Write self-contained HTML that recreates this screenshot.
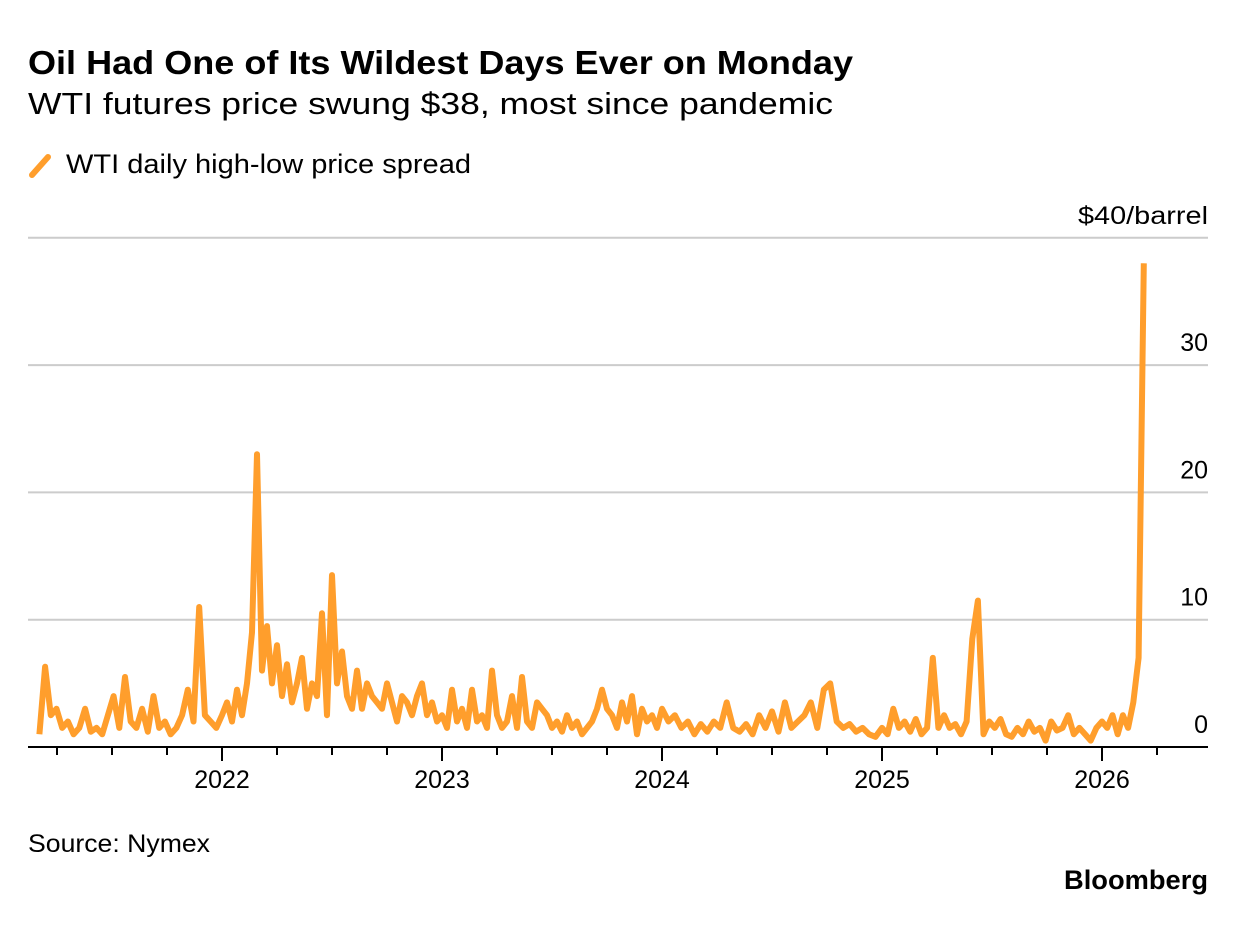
<!DOCTYPE html>
<html><head><meta charset="utf-8"><style>
body{margin:0;background:#fff;width:1237px;height:922px;overflow:hidden;font-family:"Liberation Sans",Arial,sans-serif}
</style></head><body>
<svg id="chart" width="1237" height="922" xmlns="http://www.w3.org/2000/svg" font-family="Liberation Sans, Arial, sans-serif">
<text x="28" y="74" font-size="33" font-weight="bold" fill="#000" textLength="825" lengthAdjust="spacingAndGlyphs">Oil Had One of Its Wildest Days Ever on Monday</text>
<text x="28" y="114" font-size="31" fill="#000" textLength="805" lengthAdjust="spacingAndGlyphs">WTI futures price swung $38, most since pandemic</text>
<line x1="32" y1="175" x2="48" y2="157" stroke="#ff9e2c" stroke-width="6" stroke-linecap="round"/>
<text x="66" y="173" font-size="27" fill="#000" textLength="405" lengthAdjust="spacingAndGlyphs">WTI daily high-low price spread</text>
<text x="1208" y="224" font-size="25" text-anchor="end" fill="#000" textLength="130" lengthAdjust="spacingAndGlyphs">$40/barrel</text>
<g id="grid"></g><g id="xaxis"></g><g id="series"></g>
<text x="28" y="852" font-size="25" fill="#000" textLength="182" lengthAdjust="spacingAndGlyphs">Source: Nymex</text>
<text x="1208" y="889" font-size="27" font-weight="bold" text-anchor="end" fill="#000" textLength="144" lengthAdjust="spacingAndGlyphs">Bloomberg</text>
</svg>
<script>
const yTicks=[10,20,30,40];
const yTickLabels=["10","20","30",""];
const xYears=[2022,2023,2024,2025,2026];
const chunkStarts=[2021.17,2022.0,2023.0,2024.0,2025.0,2026.0];
const chunkEnds=[2022.0,2023.0,2024.0,2025.0,2026.0,2026.19];
const values2021=[1,6.3,2.5,3,1.5,2,1,1.5,3,1.2,1.5,1,2.5,4,1.5,5.5,2,1.5,3,1.2,4,1.5,2,1,1.5,2.5,4.5,2,11,2.5,2,1.5];
const values2022=[2.5,3.5,2,4.5,2.5,5,9,23,6,9.5,5,8,4,6.5,3.5,5,7,3,5,4,10.5,2.5,13.5,5,7.5,4,3,6,3,5,4,3.5,3,5,3.5,2,4,3.5,2.5,4,5,2.5,3.5,2];
const values2023=[2.5,1.5,4.5,2,3,1.5,4.5,2,2.5,1.5,6,2.5,1.5,2,4,1.5,5.5,2,1.5,3.5,3,2.5,1.5,2,1.2,2.5,1.5,2,1,1.5,2,3,4.5,3,2.5,1.5,3.5,2,4,1,3,2,2.5,1.5];
const values2024=[3,2,2.5,1.5,2,1,1.8,1.2,2,1.5,3.5,1.5,1.2,1.8,1,2.5,1.5,2.8,1.2,3.5,1.5,2,2.5,3.5,1.5,4.5,5,2,1.5,1.8,1.2,1.5,1,0.8];
const values2025=[1.5,1,3,1.5,2,1.2,2.2,1,1.5,7,1.5,2.5,1.5,1.8,1,2,8.5,11.5,1,2,1.5,2.2,1,0.8,1.5,1,2,1.2,1.5,0.5,2,1.3,1.5,2.5,1,1.5,1,0.5,1.5];
const values2026=[2,1.5,2.5,1,2.5,1.5,3.5,7,38];
const chunks=[values2021,values2022,values2023,values2024,values2025,values2026];
const NS="http://www.w3.org/2000/svg";
const X0=28,X1=1208,Y0=747,PX_PER_UNIT=12.73;
const xScale=t=>222+(t-2022)*220;
const yScale=v=>Y0-v*PX_PER_UNIT;
function mk(tag,attrs,parent){const e=document.createElementNS(NS,tag);for(const k in attrs)e.setAttribute(k,attrs[k]);parent.appendChild(e);return e;}
const grid=document.getElementById('grid');
yTicks.forEach((v,i)=>{
 const l=mk('line',{x1:X0,x2:X1,y1:yScale(v),y2:yScale(v),stroke:'#cccccc','stroke-width':2},grid);
 
 
 if(yTickLabels[i]){const t=mk('text',{x:1208,y:yScale(v)-14,'font-size':25,'text-anchor':'end',fill:'#000'},grid);t.textContent=yTickLabels[i];
 
 }
});
const z=mk('text',{x:1208,y:733,'font-size':25,'text-anchor':'end',fill:'#000'},grid);z.textContent="0";


const xa=document.getElementById('xaxis');
const ax=mk('line',{x1:X0,x2:X1,y1:Y0,y2:Y0,stroke:'#000','stroke-width':2},xa);


for(let q=2021.25;q<=2026.5;q+=0.25){
 const x=xScale(q);if(x<X0||x>X1)continue;
 const isYear=Math.abs(q-Math.round(q))<1e-6;
 const tk=mk('line',{x1:x,x2:x,y1:Y0,y2:Y0+(isYear?14:8),stroke:'#000','stroke-width':2},xa);
 
 
}
xYears.forEach(y=>{const t=mk('text',{x:xScale(y),y:788,'font-size':25,'text-anchor':'middle',fill:'#000'},xa);t.textContent=y;
 
 });
const pts=[];
chunks.forEach((arr,c)=>{
 const s=chunkStarts[c],e=chunkEnds[c];
 const step=(c===chunks.length-1)?(e-s)/(arr.length-1):(e-s)/arr.length;
 arr.forEach((v,i)=>pts.push(xScale(s+i*step).toFixed(1)+','+yScale(v).toFixed(1)));
});
const pl=mk('polyline',{points:pts.join(' '),fill:'none',stroke:'#ff9e2c','stroke-width':6,'stroke-linejoin':'round'},document.getElementById('series'));


</script>
</body></html>
